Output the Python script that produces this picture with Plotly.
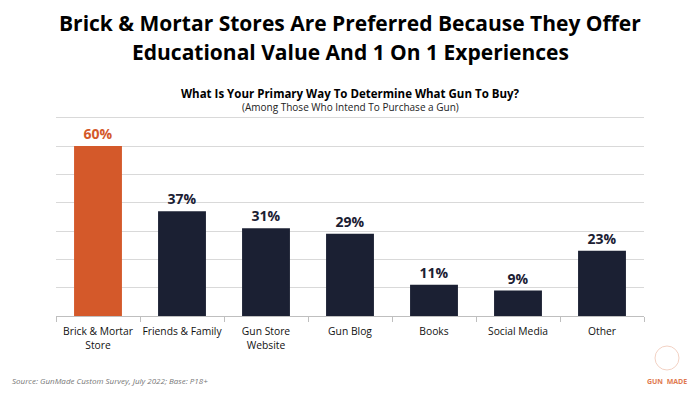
import plotly.graph_objects as go

categories = ["Brick & Mortar<br>Store", "Friends & Family", "Gun Store<br>Website", "Gun Blog", "Books", "Social Media", "Other"]
values = [60, 37, 31, 29, 11, 9, 23]
labels = [f"<b>{v}%</b>" for v in values]

ORANGE = "#D4592A"
NAVY = "#1B2033"
colors = [ORANGE] + [NAVY] * (len(values) - 1)

# page has an 8px body margin; figure sized to fit the 700x394 window
W, H = 692, 386
L, R, T, B = 48, 56, 108, 78
PH = H - T - B  # plot height in px

def py(fig_y):
    """paper y for a figure-pixel y (from top)."""
    return (H - B - fig_y) / PH

def px(fig_x):
    return (fig_x - L) / (W - L - R)

fig = go.Figure(go.Bar(
    x=categories, y=values,
    marker=dict(color=colors, line=dict(width=0)),
    text=labels, textposition="outside",
    textfont=dict(family="Open Sans", size=14, color=colors),
    cliponaxis=False,
))

fig.update_layout(
    width=W, height=H,
    margin=dict(l=L, r=R, t=T, b=B),
    plot_bgcolor="white", paper_bgcolor="white",
    bargap=0.43,
    showlegend=False,
    font=dict(family="Open Sans", color="#111111"),
)
fig.update_yaxes(range=[0, 70.6], dtick=10, showticklabels=False, automargin=False,
                 showgrid=True, gridcolor="#D9D9D9", gridwidth=1,
                 zeroline=True, zerolinecolor="#BFBFBF", zerolinewidth=1)
fig.update_xaxes(showgrid=False, tickfont=dict(size=10.3, color="#111111"),
                 tickangle=0, automargin=False, ticklabelstandoff=8,
                 ticks="outside", ticklen=5, tickcolor="#BFBFBF",
                 tickson="boundaries", showline=False)

title_lines = ["Brick & Mortar Stores Are Preferred Because They Offer",
               "Educational Value And 1 On 1 Experiences"]
for line, fy in zip(title_lines, [15, 44]):
    fig.add_annotation(text=f"<b>{line}</b>", xref="paper", yref="paper",
                       x=0.5, y=py(fy), xanchor="center", yanchor="middle",
                       showarrow=False,
                       font=dict(family="Open Sans", size=21, color="#000000"))
fig.add_annotation(text="<b>What Is Your Primary Way To Determine What Gun To Buy?</b>",
                   xref="paper", yref="paper", x=0.5, y=py(85), xanchor="center", yanchor="middle",
                   showarrow=False,
                   font=dict(family="Open Sans", size=11.5, color="#000000"))
fig.add_annotation(text="(Among Those Who Intend To Purchase a Gun)",
                   xref="paper", yref="paper", x=0.5, y=py(99), xanchor="center", yanchor="middle",
                   showarrow=False,
                   font=dict(family="Open Sans", size=10, color="#222222"))
fig.add_annotation(text="<i>Source: GunMade Custom Survey, July 2022; Base: P18+</i>",
                   xref="paper", yref="paper", x=px(2), y=py(372), xanchor="left", yanchor="middle",
                   showarrow=False,
                   font=dict(family="Open Sans", size=8, color="#777777"))
fig.add_annotation(text="<b>GUN  MADE</b>",
                   xref="paper", yref="paper", x=px(659), y=py(373), xanchor="center", yanchor="middle",
                   showarrow=False,
                   font=dict(family="Open Sans", size=7, color="#E07A4F"))
fig.add_shape(type="circle", xref="paper", yref="paper",
              xsizemode="pixel", ysizemode="pixel",
              xanchor=px(659), yanchor=py(350),
              x0=-12, x1=12, y0=-12, y1=12,
              line=dict(color="#F3D2C4", width=1))

fig.write_html("out.html")
